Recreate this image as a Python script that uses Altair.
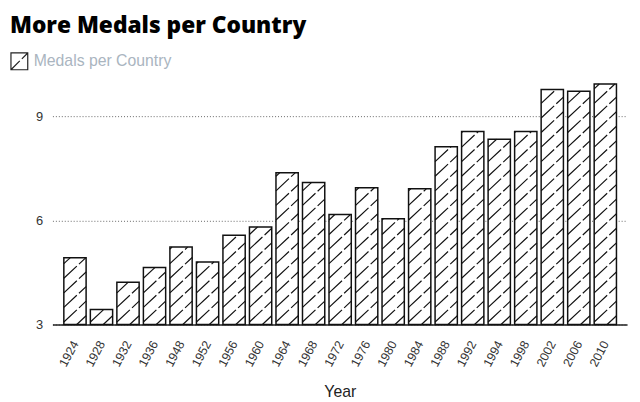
import altair as alt
import pandas as pd

years = ["1924", "1928", "1932", "1936", "1948", "1952", "1956", "1960", "1964", "1968", "1972",
         "1976", "1980", "1984", "1988", "1992", "1994", "1998", "2002", "2006", "2010"]
medals = [4.92, 3.43, 4.22, 4.64, 5.23, 4.80, 5.57, 5.81, 7.37, 7.09, 6.17,
          6.94, 6.05, 6.91, 8.12, 8.56, 8.34, 8.56, 9.77, 9.72, 9.93]
series_name = "Medals per Country"

df = pd.DataFrame({"idx": list(range(len(years))), "year": years, "value": medals,
                   "series": [series_name] * len(years)})

HALF = 0.42      # half bar width in band units
RISE = 0.60      # hatch rise across a bar (y units)
GAP = 0.42       # vertical hatch spacing (y units)
BASE = 3

label_expr = "[" + ",".join("'%s'" % y for y in years) + "][datum.value]"

xscale = alt.Scale(domain=[-0.85, len(years) - 1 + 0.82], nice=False, zero=False)
yscale = alt.Scale(domain=[3, 10], nice=False, zero=False)

xaxis = alt.Axis(values=list(range(len(years))), labelExpr=label_expr, labelAngle=-62,
                 labelOverlap=False, labelFlush=False, labelBound=False, tickCount=len(years),
                 ticks=False, grid=False, domainColor="#222", domainWidth=1.5,
                 labelFontSize=12.5, labelColor="#333", labelFont="Liberation Sans", labelPadding=17,
                 title="Year", titleFontSize=16, titleFontWeight="normal", titleColor="#222",
                 titleFont="Liberation Sans", titlePadding=15)
yaxis = alt.Axis(values=[3, 6, 9], ticks=False, domain=False, grid=True, gridDash=[1, 2],
                 gridColor="#666", gridWidth=1, labelFontSize=13, labelColor="#333",
                 labelFont="Liberation Sans", labelPadding=10, title=None)

base = alt.Chart(df).transform_calculate(
    xl="datum.idx - %f" % HALF, xr="datum.idx + %f" % HALF
)

bars = base.mark_rect(stroke="#111", strokeWidth=1.5).encode(
    x=alt.X("xl:Q", scale=xscale, axis=xaxis),
    x2="xr:Q",
    y=alt.Y("value:Q", scale=yscale, axis=yaxis),
    y2=alt.datum(BASE),
    color=alt.Color("series:N", scale=alt.Scale(range=["white"]),
                    legend=alt.Legend(title=None, orient="none", legendX=-43, legendY=-30,
                                      symbolType="M-1,-1H1V1H-1Z M-1,1L0.05,-0.05 M0.3,-0.3L1,-1",
                                      symbolSize=289, symbolStrokeColor="#222", symbolStrokeWidth=1.2,
                                      labelFontSize=16, labelColor="#aab5bf", labelFont="Liberation Sans",
                                      labelOffset=5)),
)

hatch = base.transform_calculate(
    k="sequence(0, ceil((datum.value - %f + %f) / %f) + 1)" % (BASE, RISE, GAP)
).transform_flatten(["k"]).transform_calculate(
    yl="%f - %f + %f * (datum.k + 0.6)" % (BASE, RISE, GAP)
).transform_filter(
    "datum.yl < datum.value && datum.yl + %f > %f" % (RISE, BASE)
).transform_calculate(
    hx1="datum.yl >= %f ? datum.xl : datum.xl + (%f - datum.yl) / %f * (datum.xr - datum.xl)" % (BASE, BASE, RISE),
    hy1="max(datum.yl, %f)" % BASE,
    hx2="datum.yl + %f <= datum.value ? datum.xr : datum.xl + (datum.value - datum.yl) / %f * (datum.xr - datum.xl)" % (RISE, RISE),
    hy2="min(datum.yl + %f, datum.value)" % RISE,
).mark_rule(stroke="#111", strokeWidth=1.2, strokeDash=[18, 3]).encode(
    x=alt.X("hx1:Q", scale=xscale, axis=xaxis),
    x2="hx2:Q",
    y=alt.Y("hy1:Q", scale=yscale, axis=yaxis),
    y2="hy2:Q",
)

chart = alt.layer(bars, hatch).properties(
    width=582, height=246,
    padding={"left": 2, "top": 5, "right": 5, "bottom": 2},
    title=alt.TitleParams("More Medals per Country", anchor="start", fontSize=23,
                          font="Open Sans", fontWeight=800, color="#000", offset=14),
).configure_view(stroke=None)

chart.save("out.html", embed_options={"renderer": "svg", "actions": False})
